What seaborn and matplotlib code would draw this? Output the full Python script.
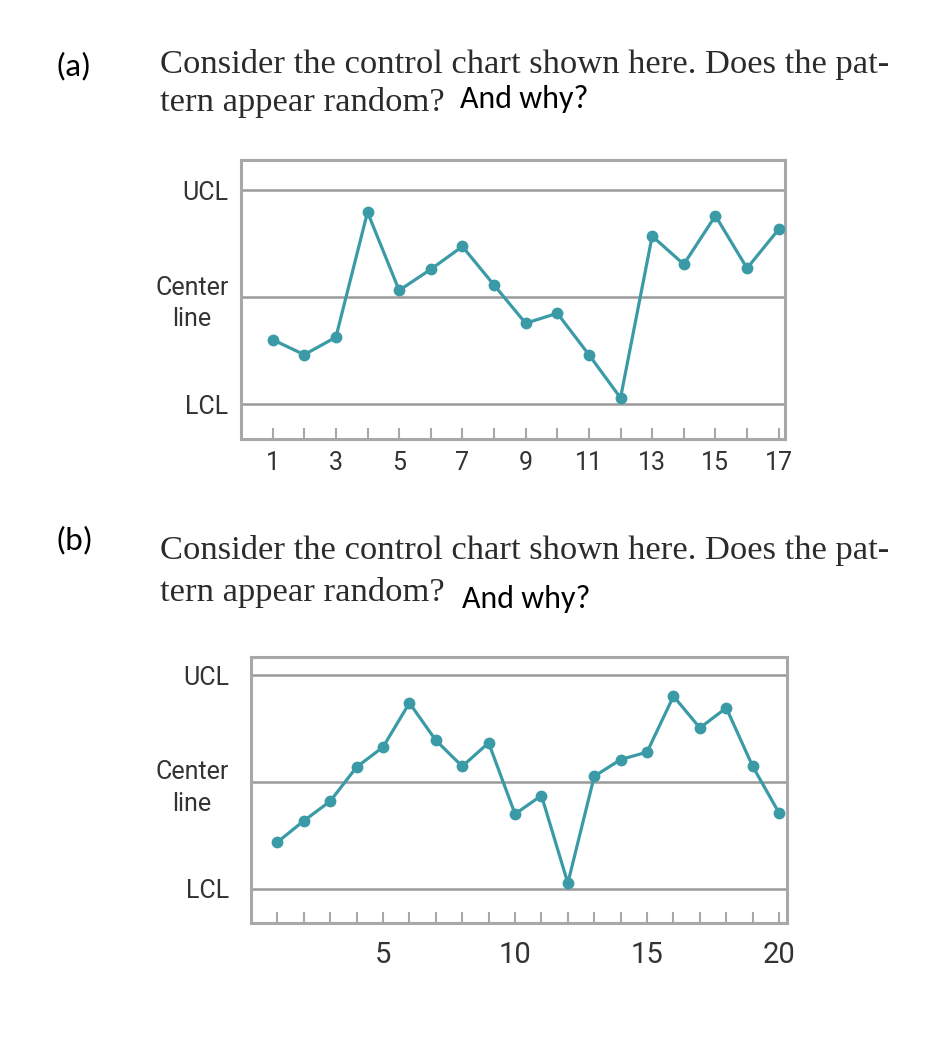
import matplotlib
matplotlib.use("Agg")
import matplotlib.pyplot as plt
from matplotlib import font_manager
import seaborn as sns
import numpy as np

# ---- data ----
a_samples = list(range(1, 18))
a_values = [-1.19, -1.61, -1.12, 2.38, 0.19, 0.78, 1.42, 0.34, -0.73, -0.45,
            -1.61, -2.82, 1.71, 0.92, 2.28, 0.81, 1.90]
a_ticklabels = [str(i) if i % 2 == 1 else "" for i in a_samples]

b_samples = list(range(1, 21))
b_values = [-1.69, -1.09, -0.54, 0.42, 0.98, 2.22, 1.17, 0.44, 1.10, -0.90,
            -0.38, -2.84, 0.16, 0.63, 0.84, 2.41, 1.52, 2.08, 0.44, -0.87]
b_ticklabels = [str(i) if i % 5 == 0 else "" for i in b_samples]

limit_values = [3, 0, -3]
limit_labels = ["UCL", "Center\nline", "LCL"]

question_line1 = "Consider the control chart shown here. Does the pat-"
question_line2 = "tern appear random?"
question_extra = "And why?"

sns.set_style("white")

def pick_font(cands):
    for c in cands:
        try:
            font_manager.findfont(font_manager.FontProperties(family=c), fallback_to_default=False)
            return c
        except Exception:
            pass
    return "DejaVu Sans"

narrow = pick_font(["Liberation Sans Narrow", "Roboto"])
serif = pick_font(["Liberation Serif", "DejaVu Serif"])
calib = pick_font(["Carlito", "Lato", "Open Sans"])

teal = "#3a9ba6"
gray = "#9a9a9a"
frame = "#a8a8a8"
label_col = "#333333"

fig = plt.figure(figsize=(9.28, 10.5), dpi=100)
W, H = 928, 1050

def axes_px(l, t, r, b):
    return fig.add_axes([l / W, 1 - b / H, (r - l) / W, (b - t) / H])

def draw_chart(ax, xs, ys, ticklabels, xlim, ylim, xfs, xpad, ypad):
    for v in limit_values:
        ax.axhline(v, color=gray, lw=1.8, zorder=1)
    sns.lineplot(x=xs, y=ys, ax=ax, color=teal, marker="o", markersize=8.5,
                 markeredgewidth=0, linewidth=2.3, zorder=3)
    ax.set_xlim(*xlim)
    ax.set_ylim(*ylim)
    ax.set_xticks(xs)
    ax.set_xticklabels(ticklabels, fontfamily=narrow, fontsize=xfs, color=label_col)
    ax.set_yticks(limit_values)
    ax.set_yticklabels(limit_labels, fontfamily=narrow, fontsize=18, color=label_col,
                       multialignment="center", linespacing=1.4)
    ax.tick_params(axis="x", direction="in", length=8, width=1.5, color=frame,
                   pad=xpad, bottom=True)
    ax.tick_params(axis="y", length=0, pad=ypad)
    for s in ax.spines.values():
        s.set_color(frame)
        s.set_linewidth(2.2)
    ax.set_xlabel("")
    ax.set_ylabel("")
    ax.grid(False)

ax1 = axes_px(241, 160, 785, 439)
draw_chart(ax1, a_samples, a_values, a_ticklabels, (0, 17.2), (-3.97, 3.84), 18, 9, 9)

ax2 = axes_px(251, 657, 787, 923)
draw_chart(ax2, b_samples, b_values, b_ticklabels, (0, 20.3), (-3.96, 3.51), 21, 13, 16)

def px(x, y):
    return x / W, 1 - y / H

serif_fs = 24.8
calib_fs = 23

# (a) texts
fig.text(*px(56, 66), "(a)", fontfamily=calib, fontsize=24, color="black", va="center")
fig.text(*px(160, 73), question_line1, fontfamily=serif, fontsize=serif_fs, color="#2b2b2b", va="baseline")
fig.text(*px(160, 111), question_line2, fontfamily=serif, fontsize=serif_fs, color="#2b2b2b", va="baseline")
fig.text(*px(460, 108), question_extra, fontfamily=calib, fontsize=calib_fs, color="black", va="baseline")

# (b) texts
fig.text(*px(56, 540), "(b)", fontfamily=calib, fontsize=24, color="black", va="center")
fig.text(*px(160, 559), question_line1, fontfamily=serif, fontsize=serif_fs, color="#2b2b2b", va="baseline")
fig.text(*px(160, 601), question_line2, fontfamily=serif, fontsize=serif_fs, color="#2b2b2b", va="baseline")
fig.text(*px(462, 608), question_extra, fontfamily=calib, fontsize=calib_fs, color="black", va="baseline")

fig.savefig("out.png", dpi=100)
